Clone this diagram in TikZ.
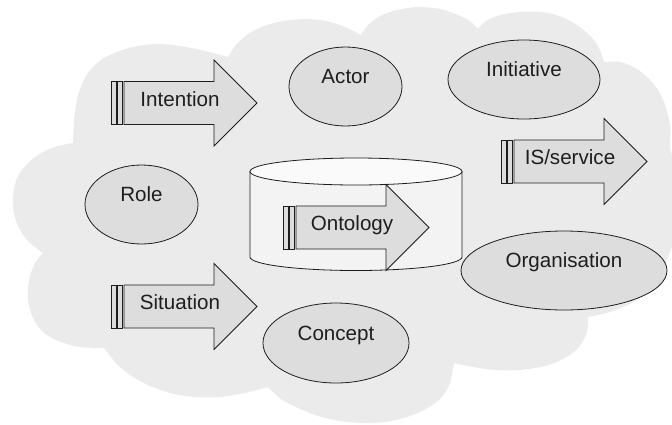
\documentclass[tikz,border=0pt]{standalone}
\usepackage{fontspec}
\setmainfont{Liberation Sans}
\usepackage{xcolor}
\definecolor{cloudgrey}{RGB}{235,235,235}
\definecolor{shapegrey}{RGB}{221,221,221}
\definecolor{drumgrey}{RGB}{243,243,243}
\definecolor{drumtop}{RGB}{250,250,250}
\definecolor{edge}{RGB}{30,30,30}
\usepackage{tikz}
\usetikzlibrary{shapes.geometric,positioning,calc}

% arrow with two bars at its tail: name, start of the shaft, text
\newcommand{\tagarrow}[3]{%
  \begin{scope}[shift={(#2)}]
    \draw[arrowbody] (0,-21.5) -- (90,-21.5) -- (90,-43) -- (133,0) -- (90,43) -- (90,21.5) -- (0,21.5) -- cycle;
    \draw[arrowbody] (-12.5,-21.5) rectangle (-7.5,21.5);
    \draw[arrowbody] (-7,-21.5) rectangle (-1.5,21.5);
    \node[tagtext, anchor=base] (#1) at (56,3) {#3};
  \end{scope}}

\begin{document}
\begin{tikzpicture}[
  x=1pt, y=-1pt,
  tagtext/.style={inner sep=0pt, text=edge, font=\fontsize{20.6}{24}\selectfont},
  bubble/.style={ellipse, draw=edge, fill=shapegrey, line width=0.8pt, inner sep=0pt},
  arrowbody/.style={draw=edge, fill=shapegrey, line width=0.8pt, line join=miter},
  drum/.style={draw=edge, fill=drumgrey, line width=0.8pt}
]
\useasboundingbox (0,0) rectangle (672,424);

% the cloud
\fill[cloudgrey]
  plot[smooth] coordinates {(73,143) (74,120) (78,95) (88,73) (104,58) (129,48) (155,44) (180,46) (205,51) (228,57)}
  -- plot[smooth] coordinates {(228,57) (236,45) (248,34) (264,26) (283,21) (305,19) (326,21) (345,27) (361,35)}
  -- plot[smooth] coordinates {(361,35) (368,25) (380,16) (397,10) (418,7) (440,9) (458,15) (470,21) (478,29)}
  -- plot[smooth] coordinates {(478,29) (486,21) (500,15) (520,12) (542,12) (562,17) (580,27) (593,39) (600,50) (604,62)}
  -- plot[smooth] coordinates {(604,62) (620,62) (637,69) (653,83) (664,102) (670,125) (670,148)}
  -- plot[smooth] coordinates {(670,148) (675,170) (677,205) (674,238) (666,262) (652,285) (633,302) (610,312) (588,317)}
  -- plot[smooth] coordinates {(588,317) (587,332) (579,347) (565,358) (545,366) (520,370) (495,370) (473,367) (454,363)}
  -- plot[smooth] coordinates {(454,363) (450,383) (441,398) (426,409) (407,417) (385,422) (363,423) (340,421) (318,416) (298,408) (281,399) (268,387)}
  -- plot[smooth] coordinates {(268,387) (245,393) (220,397) (195,397) (170,393) (148,385) (130,375) (116,363) (104,348)}
  -- plot[smooth] coordinates {(104,348) (80,347) (58,341) (43,332) (33,318) (28,300) (29,280) (35,263) (43,253)}
  -- plot[smooth] coordinates {(43,253) (30,243) (20,230) (14,214) (13,197) (17,178) (28,163) (43,152) (58,146) (73,143)}
  -- cycle;

% ellipses
\node[bubble, minimum width=113pt, minimum height=79pt] (actor) at (345.5,86.5) {};
\node[bubble, minimum width=152pt, minimum height=79pt] (initiative) at (524,79.5) {};
\node[bubble, minimum width=113pt, minimum height=79pt] (role) at (141.5,204.5) {};
\node[bubble, minimum width=146pt, minimum height=80pt] (concept) at (336,343) {};
\node[bubble, minimum width=206pt, minimum height=79pt] (organisation) at (564,270.5) {};

\node[tagtext, anchor=base] (actortext) at ([yshift=2.8pt]actor.center) {Actor};
\node[tagtext, anchor=base] (initiativetext) at ([yshift=2.8pt]initiative.center) {Initiative};
\node[tagtext, anchor=base] (roletext) at ([yshift=2.8pt]role.center) {Role};
\node[tagtext, anchor=base] (concepttext) at ([yshift=2.8pt]concept.center) {Concept};
\node[tagtext, anchor=base] (organisationtext) at ([yshift=2.8pt]organisation.center) {Organisation};

% arrows
\tagarrow{intention}{124,103}{Intention}
\tagarrow{situation}{124,306.5}{Situation}
\tagarrow{isservice}{514,161.5}{IS/service}

% the drum with the ontology
\draw[drum] (250,171.5) -- (250,257) arc[start angle=180, end angle=0, x radius=106, y radius=13.5] -- (462,171.5) -- cycle;
\draw[drum, fill=drumtop] (356,171.5) ellipse[x radius=106, y radius=13.5];
\tagarrow{ontology}{296,227.5}{Ontology}
\end{tikzpicture}
\end{document}
